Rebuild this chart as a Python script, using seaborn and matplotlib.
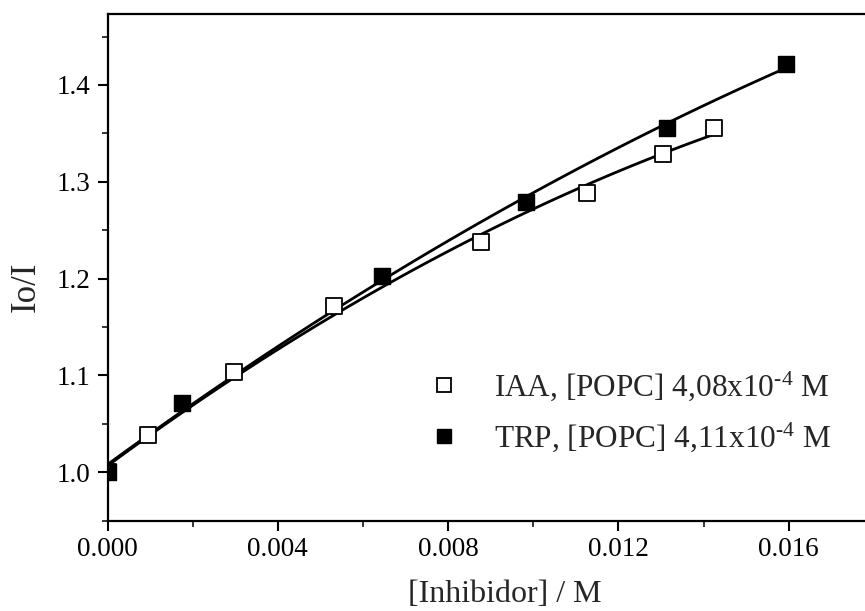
import numpy as np
import pandas as pd
import matplotlib
matplotlib.use("Agg")
import matplotlib.pyplot as plt
from matplotlib.lines import Line2D
import seaborn as sns

# valores
iaa_x = [0.0, 0.00096, 0.00298, 0.00532, 0.00877, 0.01125, 0.01305, 0.01424]
iaa_y = [1.000, 1.038, 1.104, 1.172, 1.238, 1.288, 1.329, 1.356]
trp_x = [0.0, 0.00174, 0.00645, 0.00984, 0.01315, 0.01593]
trp_y = [1.000, 1.072, 1.203, 1.279, 1.356, 1.422]
labels = ["IAA, [POPC] 4,08x10$^{\\text{-}4}$ M", "TRP, [POPC] 4,11x10$^{\\text{-}4}$ M"]
xticks = [0.000, 0.004, 0.008, 0.012, 0.016]
yticks = [1.0, 1.1, 1.2, 1.3, 1.4]

sns.set_style("ticks")
plt.rcParams["font.family"] = ["Liberation Serif", "DejaVu Serif"]
plt.rcParams["mathtext.fontset"] = "custom"
plt.rcParams["mathtext.rm"] = "Liberation Serif"
plt.rcParams["mathtext.it"] = "Liberation Serif:italic"

iaa = pd.DataFrame({"x": iaa_x, "y": iaa_y})
trp = pd.DataFrame({"x": trp_x, "y": trp_y})

fig = plt.figure(figsize=(8.65, 6.11), dpi=100)
ax = fig.add_axes([0.1243, 0.1478, 0.886, 0.8288])

# ajustes polinomicos
sns.regplot(data=iaa, x="x", y="y", order=2, ci=None, scatter=False,
            line_kws={"color": "black", "lw": 2.0}, ax=ax)
sns.regplot(data=trp, x="x", y="y", order=2, ci=None, scatter=False,
            line_kws={"color": "black", "lw": 2.0}, ax=ax)

sns.scatterplot(data=iaa, x="x", y="y", marker="s", s=120, facecolor="white",
                edgecolor="black", linewidth=1.3, zorder=3, ax=ax)
sns.scatterplot(data=trp, x="x", y="y", marker="s", s=120, color="black",
                edgecolor="black", linewidth=1.0, zorder=4, ax=ax)

ax.set_xlim(0, 0.018)
ax.set_ylim(0.95, 1.473)
ax.set_xticks(xticks)
ax.set_xticklabels([f"{v:.3f}" for v in xticks])
ax.set_xticks(np.arange(0.002, 0.018, 0.004), minor=True)
ax.set_yticks(yticks)
ax.set_yticklabels([f"{v:.1f}" for v in yticks])
ax.set_yticks([0.95, 1.05, 1.15, 1.25, 1.35, 1.45], minor=True)
ax.tick_params(which="major", direction="out", length=7, width=1.5,
               labelsize=19.5, colors="black", pad=5)
ax.tick_params(which="minor", direction="out", length=4, width=1.3)
for sp in ax.spines.values():
    sp.set_linewidth(1.6)
    sp.set_color("black")

ax.set_xlabel("[Inhibidor] / M", fontsize=23)
ax.set_ylabel("Io/I", fontsize=25)
ax.xaxis.set_label_coords(0.5186, -0.118)
ax.yaxis.set_label_coords(-0.085, 0.4615)

handles = [
    Line2D([], [], marker="s", ls="none", markersize=10, markerfacecolor="white",
           markeredgecolor="black", markeredgewidth=1.3),
    Line2D([], [], marker="s", ls="none", markersize=10, markerfacecolor="black",
           markeredgecolor="black"),
]
fig.legend(handles, labels, loc="center left", bbox_to_anchor=(0.4885, 0.326),
           frameon=False, fontsize=22.5, handletextpad=1.09, labelspacing=0.58,
           handlelength=1.0, borderpad=0.2, borderaxespad=0.0)

fig.savefig("out.png", dpi=100)
